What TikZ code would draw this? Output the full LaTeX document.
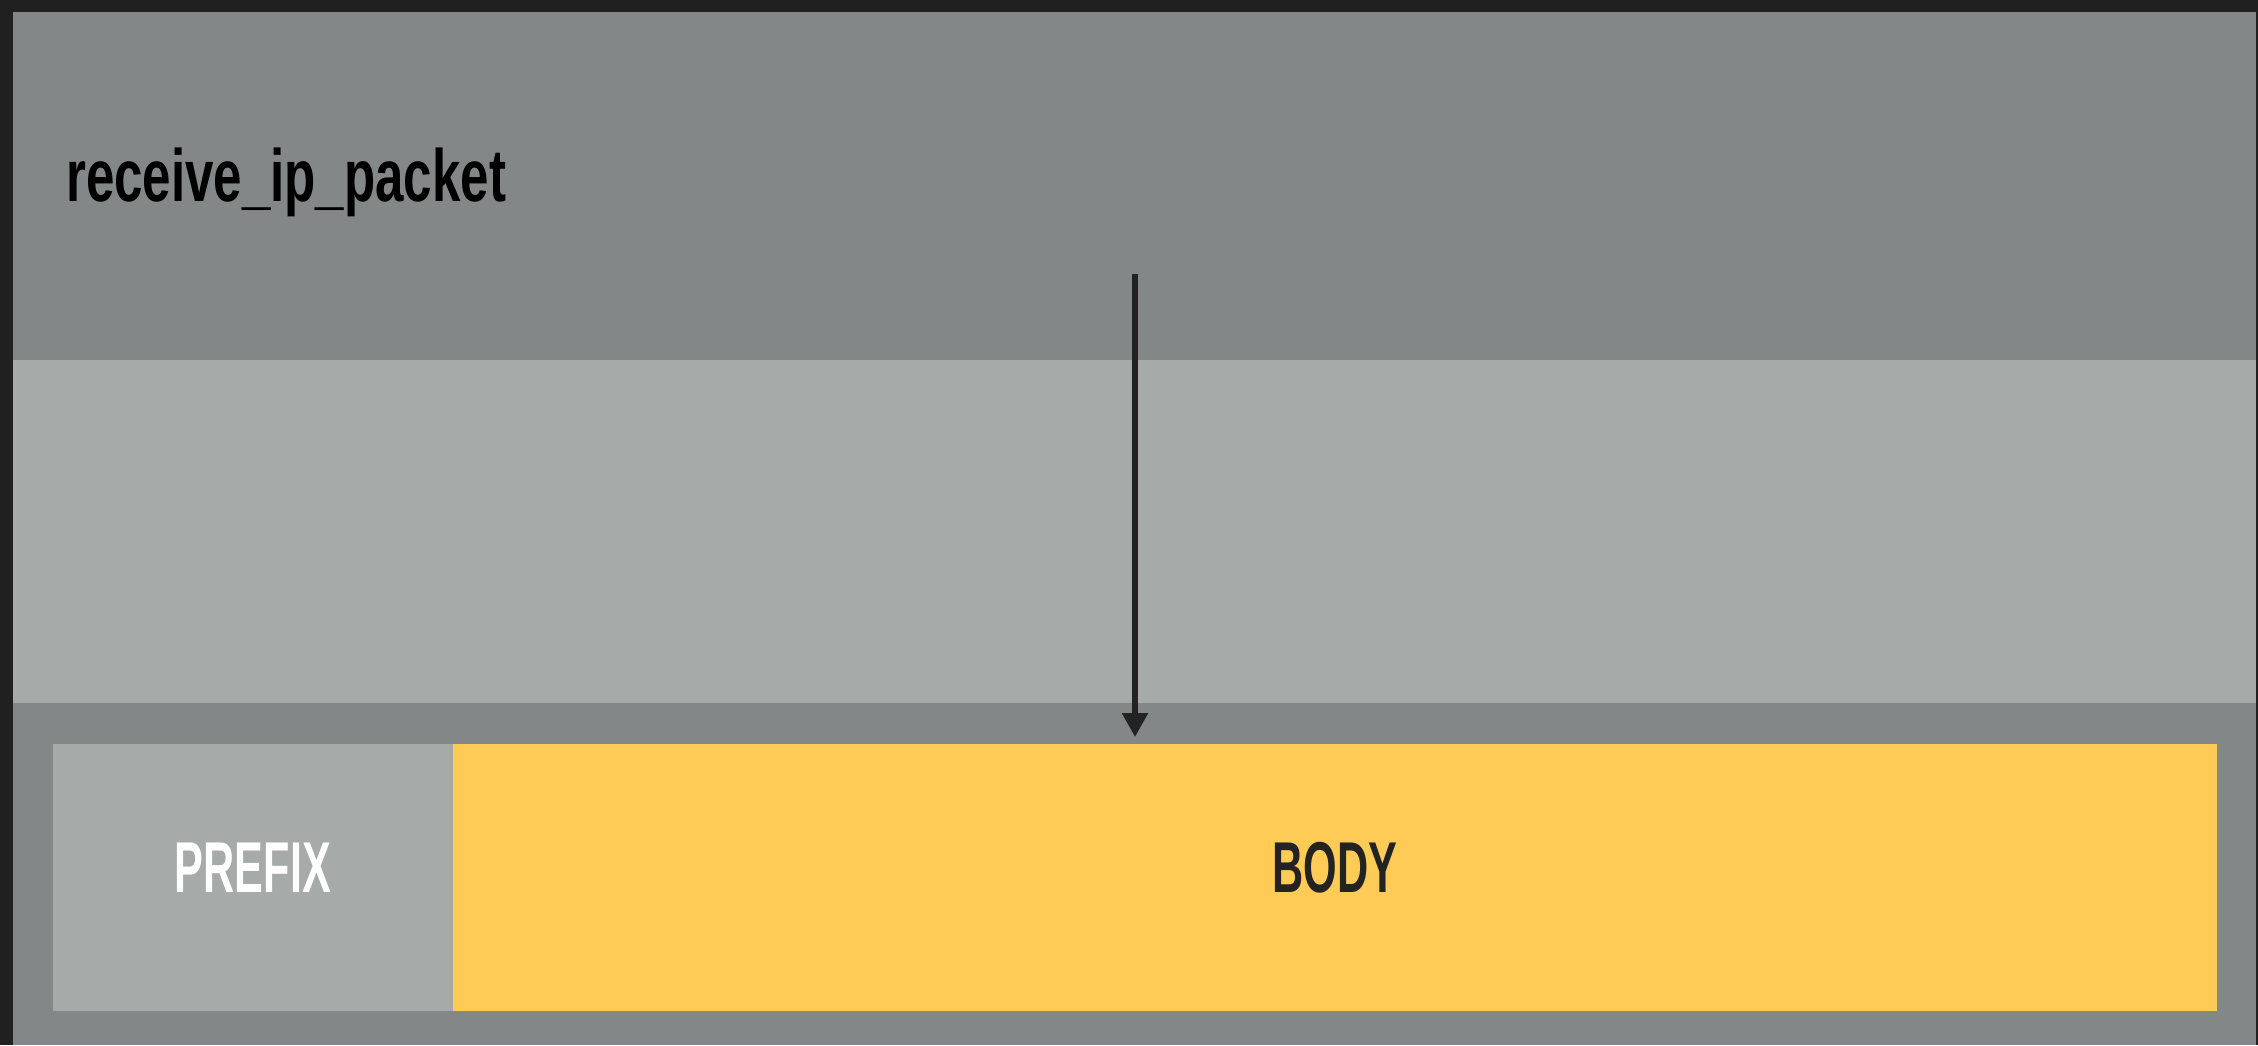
\documentclass[tikz,border=0pt]{standalone}
\usepackage{fontspec}
\usetikzlibrary{arrows.meta}
\newfontfamily\dinfont[FakeStretch=0.6]{Liberation Sans}
\newfontfamily\dintitle[FakeStretch=0.69]{Liberation Sans}
\definecolor{pagebg}{HTML}{202020}
\definecolor{darkband}{HTML}{848788}
\definecolor{lightband}{HTML}{A6AAA9}
\definecolor{bodyyellow}{HTML}{FECB57}
\definecolor{inkdark}{HTML}{232323}
\begin{document}
\begin{tikzpicture}[x=1pt,y=-1pt,
  seg/.style={draw=none,inner sep=0pt,outer sep=0pt,minimum height=267pt,anchor=north west},
  lbl/.style={font=\dinfont\bfseries\fontsize{72}{80}\selectfont},
  flow/.style={draw=inkdark,line width=5.5pt,-{Triangle[width=25pt,length=24pt]}}]
\useasboundingbox (0,0) rectangle (2258,1045);
\fill[pagebg] (0,0) rectangle (2258,1045);
\fill[darkband] (13,12) rectangle (2256,1045);
\fill[lightband] (13,360) rectangle (2256,703);
\node[anchor=base west,inner sep=0pt,text=black,font=\dintitle\bfseries\fontsize{74}{80}\selectfont] (title) at (66,201) {receive\_ip\_packet};
\node[seg,fill=lightband,minimum width=400pt] (prefix) at (53,744) {};
\node[seg,fill=bodyyellow,minimum width=1764pt] (body) at (453,744) {};
\node[lbl,text=white,inner sep=0pt] (prefixtext) at ([yshift=9.5pt]prefix.center) {PREFIX};
\node[lbl,text=inkdark,inner sep=0pt] (bodytext) at ([yshift=9.5pt]body.center) {BODY};
\coordinate (src) at (1135,274);
\draw[flow,shorten >=7pt] (src) -- (src |- body.north);
\end{tikzpicture}
\end{document}
